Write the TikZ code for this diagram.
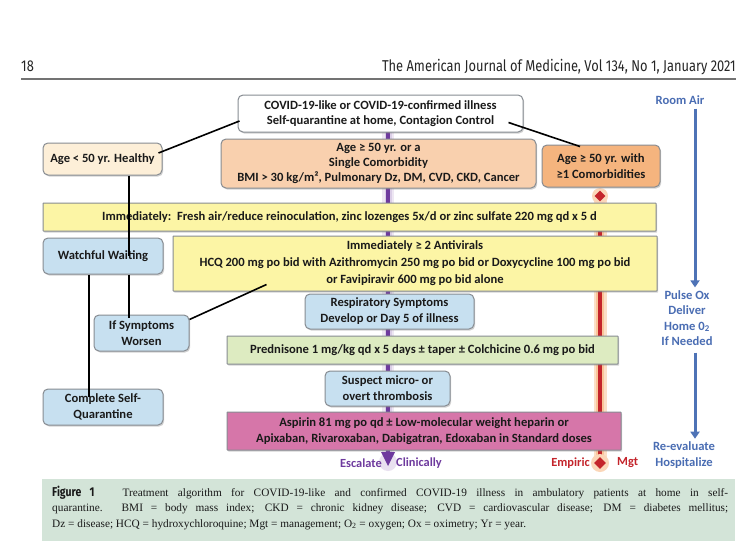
\documentclass[tikz,border=0pt]{standalone}
\usepackage{fontspec}
\setmainfont{Carlito}
\newfontfamily\capfont{Liberation Serif}
\newfontfamily\hdrfont[FakeStretch=0.82]{Fira Sans}
\usetikzlibrary{shapes.geometric,shadows,calc,arrows.meta}
\definecolor{boxgray}{HTML}{878C92}
\definecolor{cream}{HTML}{FDEFD8}
\definecolor{peach}{HTML}{F9D0AE}
\definecolor{orangebox}{HTML}{F5B47E}
\definecolor{yellowbox}{HTML}{FCF5A5}
\definecolor{lightblue}{HTML}{C7E0F0}
\definecolor{greenbox}{HTML}{DDEBC1}
\definecolor{pinkbox}{HTML}{D676A9}
\definecolor{labelblue}{HTML}{4A6DB3}
\definecolor{arrowblue}{HTML}{4E73B6}
\definecolor{purp}{HTML}{6E3A9E}
\definecolor{redline}{HTML}{C4242B}
\definecolor{glow}{HTML}{F9C59A}
\definecolor{capbg}{HTML}{D3E4D8}
\definecolor{txt}{HTML}{1A1A1A}
\tikzset{
  boxbase/.style={draw=boxgray, line width=1pt, align=center, text=txt,
    font=\bfseries\fontsize{12.6}{15.3}\selectfont, inner sep=0pt,
    drop shadow={shadow xshift=1.2pt, shadow yshift=-1.5pt, opacity=0.35}},
  roundbox/.style={boxbase, rounded corners=5pt},
  barbox/.style={boxbase, rounded corners=0.5pt},
  conn/.style={line width=1.6pt, black},
  bluelabel/.style={text=labelblue, font=\bfseries\fontsize{12.6}{15.3}\selectfont, align=center, inner sep=0pt},
  bluearrow/.style={line width=3pt, arrowblue, -{Triangle[width=9pt,length=7pt]}},
  botlabel/.style={inner sep=0pt, font=\bfseries\fontsize{12.4}{14}\selectfont},
}
\begin{document}
\begin{tikzpicture}[x=1pt,y=-1pt]
\useasboundingbox (0,0) rectangle (750,554);
\fill[white] (0,0) rectangle (750,554);

% header
\node[anchor=base west, inner sep=0pt, font=\hdrfont\fontsize{15.7}{18}\selectfont, text=black!85] (pnum) at (21,71) {18};
\node[anchor=base east, inner sep=0pt, font=\hdrfont\fontsize{15.7}{18}\selectfont, text=black!85] (journal) at (736,71) {The American Journal of Medicine, Vol 134, No 1, January 2021};
\draw[line width=1.5pt, black!55] (21,79) -- (736,79);

% glow lines (behind boxes)
\coordinate (ptop) at (388,132);
\coordinate (pend) at (388,452);
\coordinate (rtop) at (600,196);
\coordinate (rend) at (600,463);
\draw[line width=12pt, purp!12] (ptop) -- (pend);
\draw[line width=7pt, purp!25] (ptop) -- (pend);
\draw[line width=3.5pt, purp] (ptop) -- (pend);
\fill[purp!15] (388,462) circle (9pt);
\fill[purp] (381,452) -- (395,452) -- (388,466) -- cycle;

\draw[line width=13pt, glow!55] (rtop) -- (rend);
\draw[line width=8pt, glow] (rtop) -- (rend);
\draw[line width=3.5pt, redline] (rtop) -- (rend);
\fill[glow!70] (rtop) circle (8pt);
\fill[glow!70] (rend) circle (9pt);
\node[diamond, fill=redline, inner sep=0pt, minimum width=11pt, minimum height=11pt] (dtop) at (rtop) {};
\node[diamond, fill=redline, inner sep=0pt, minimum width=12pt, minimum height=12pt] (dend) at (rend) {};

% boxes
\node[roundbox, fill=white, minimum width=285pt, minimum height=37pt] (top) at (380.5,113.5)
  {COVID-19-like or COVID-19-confirmed illness\\Self-quarantine at home, Contagion Control};
\node[roundbox, fill=cream, minimum width=119pt, minimum height=32pt] (healthy) at (102.5,159)
  {Age < 50 yr. Healthy};
\node[roundbox, fill=peach, minimum width=315pt, minimum height=49pt] (single) at (378.5,163.5)
  {Age ≥ 50 yr. or a\\Single Comorbidity\\BMI > 30 kg/m², Pulmonary Dz, DM, CVD, CKD, Cancer};
\node[roundbox, fill=orangebox, minimum width=118pt, minimum height=42pt] (multi) at (601,166)
  {Age ≥ 50 yr. with\\≥1 Comorbidities};
\node[barbox, fill=yellowbox, minimum width=613pt, minimum height=28pt] (imm) at (349.5,217)
  {Immediately:\ \ Fresh air/reduce reinoculation, zinc lozenges 5x/d or zinc sulfate 220 mg qd x 5 d};
\node[roundbox, fill=lightblue, minimum width=120pt, minimum height=36pt] (ww) at (103,256)
  {Watchful Waiting};
\node[barbox, fill=yellowbox, minimum width=484pt, minimum height=55pt, font=\bfseries\fontsize{12.6}{17}\selectfont] (antiv) at (415,263.5)
  {Immediately ≥ 2 Antivirals\\HCQ 200 mg po bid with Azithromycin 250 mg po bid or Doxycycline 100 mg po bid\\or Favipiravir 600 mg po bid alone};
\node[roundbox, fill=lightblue, minimum width=169pt, minimum height=35pt, font=\bfseries\fontsize{12.6}{16}\selectfont] (resp) at (389.5,311.5)
  {Respiratory Symptoms\\Develop or Day 5 of illness};
\node[roundbox, fill=lightblue, minimum width=95pt, minimum height=36pt, font=\bfseries\fontsize{12.6}{16}\selectfont] (ifsym) at (141.5,333)
  {If Symptoms\\Worsen};
\node[barbox, fill=greenbox, minimum width=391pt, minimum height=28pt] (pred) at (422.5,350)
  {Prednisone 1 mg/kg qd x 5 days ± taper ± Colchicine 0.6 mg po bid};
\node[roundbox, fill=lightblue, minimum width=125pt, minimum height=35pt, font=\bfseries\fontsize{12.6}{16}\selectfont] (susp) at (387.5,388.5)
  {Suspect micro- or\\overt thrombosis};
\node[roundbox, fill=lightblue, minimum width=120pt, minimum height=36pt, font=\bfseries\fontsize{12.6}{16}\selectfont] (compl) at (103,407)
  {Complete Self-\\Quarantine};
\node[barbox, fill=pinkbox, minimum width=394pt, minimum height=38pt, font=\bfseries\fontsize{12.6}{16.5}\selectfont] (asp) at (424,431)
  {Aspirin 81 mg po qd ± Low-molecular weight heparin or\\Apixaban, Rivaroxaban, Dabigatran, Edoxaban in Standard doses};

% connectors
\draw[conn] ([xshift=2pt,yshift=-7.5pt]top.west) -- ([xshift=-4pt,yshift=6pt]healthy.east);
\draw[conn] ([xshift=-15pt,yshift=10pt]top.south east) -- ([xshift=-21pt,yshift=-2pt]multi.north);
\draw[conn] ([xshift=26.5pt]healthy.south) -- ([xshift=26pt]ww.center);
\draw[conn] ([xshift=-14pt]ww.south) -- ([xshift=-14pt,yshift=10pt]compl.center);
\draw[conn] ([xshift=26pt]ww.south) -- ([xshift=-12.5pt,yshift=-3pt]ifsym.north);
\draw[conn] ([yshift=-5pt]ifsym.north east) -- ([xshift=94pt,yshift=7pt]antiv.south west);

% bottom labels
\node[botlabel, anchor=east, text=purp] (escl) at (382,463) {Escalate};
\node[botlabel, anchor=west, text=purp] (escr) at (396,463) {Clinically};
\node[botlabel, anchor=east, text=redline] (emp) at (590,463) {Empiric};
\node[botlabel, anchor=west, text=redline] (mgt) at (617,463) {Mgt};

% right column
\node[bluelabel] (room) at (680,100) {Room Air};
\node[bluelabel] (pulse) at (687,318) {Pulse Ox\\Deliver\\Home 0\textsubscript{2}\\If Needed};
\node[bluelabel] (reev) at (684,455) {Re-evaluate\\Hospitalize};
\draw[bluearrow] ([xshift=15pt,yshift=-4pt]room.south) -- ([xshift=8pt,yshift=3pt]pulse.north);
\draw[bluearrow] ([xshift=8pt,yshift=-7pt]pulse.south) -- ([xshift=11pt,yshift=3pt]reev.north);

% caption
\fill[capbg] (42,479) rectangle (735,541);
\node[anchor=north west, inner sep=0pt, text width=676pt, align=justify, text=black!90,
  font=\capfont\fontsize{11.3}{15.5}\selectfont] (cap) at (52,485.5)
  {{\hdrfont\bfseries\fontsize{12.8}{15.5}\selectfont Figure 1}\ \ \ Treatment algorithm for COVID-19-like and confirmed COVID-19 illness in ambulatory patients at home in self-\linebreak
  quarantine. BMI = body mass index; CKD = chronic kidney disease; CVD = cardiovascular disease; DM = diabetes mellitus;\linebreak
  Dz = disease; HCQ = hydroxychloroquine; Mgt = management; O\textsubscript{2} = oxygen; Ox = oximetry; Yr = year.};
\end{tikzpicture}
\end{document}
